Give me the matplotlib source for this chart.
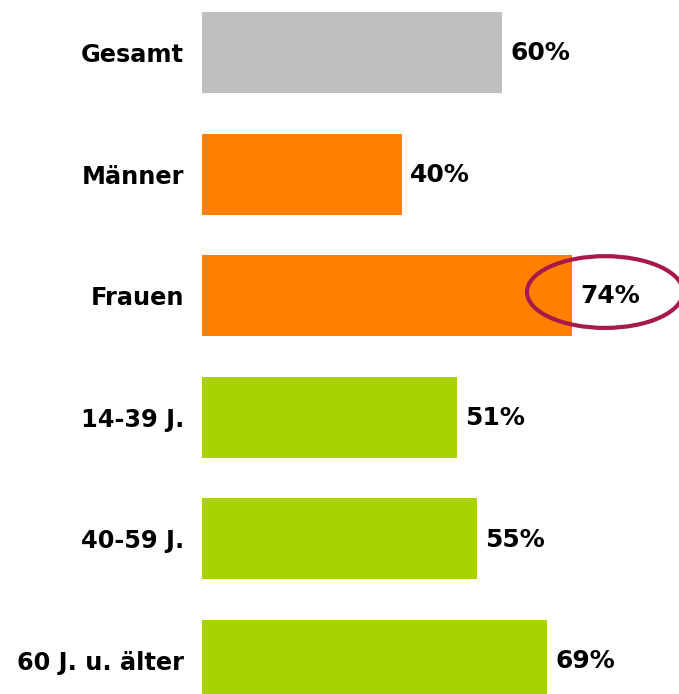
import matplotlib.pyplot as plt
from matplotlib.patches import Ellipse

categories = ["Gesamt", "Männer", "Frauen", "14-39 J.", "40-59 J.", "60 J. u. älter"]
values = [60, 40, 74, 51, 55, 69]
colors = ["#BFBFBF", "#FF7F00", "#FF7F00", "#A9D300", "#A9D300", "#A9D300"]
highlight = "Frauen"

fig = plt.figure(figsize=(6.79, 6.94), dpi=100)
ax = fig.add_axes([202 / 679, 0, 1 - 202 / 679, 1])

pos = list(range(len(categories)))
ax.barh(pos, values, height=0.666, color=colors)

for p, v in zip(pos, values):
    ax.annotate(f"{v}%", (v, p), xytext=(6, -0.5), textcoords="offset points",
                ha="left", va="center", fontsize=18, fontweight="bold",
                family="DejaVu Sans")

# ring around the highlighted value
i = categories.index(highlight)
ax.add_patch(Ellipse((80.6, i - 0.03), 31.2, 0.59, fill=False,
                     edgecolor="#A8194A", linewidth=3, clip_on=False))

ax.set_xlim(0, 477 / 5)
ax.set_ylim(5.276, -0.432)
ax.set_yticks(pos)
ax.set_yticklabels(categories, fontsize=17.3, fontweight="bold")
ax.tick_params(axis="y", length=0, pad=13)
ax.set_xticks([])
for s in ax.spines.values():
    s.set_visible(False)

fig.savefig("out.png", dpi=100)
